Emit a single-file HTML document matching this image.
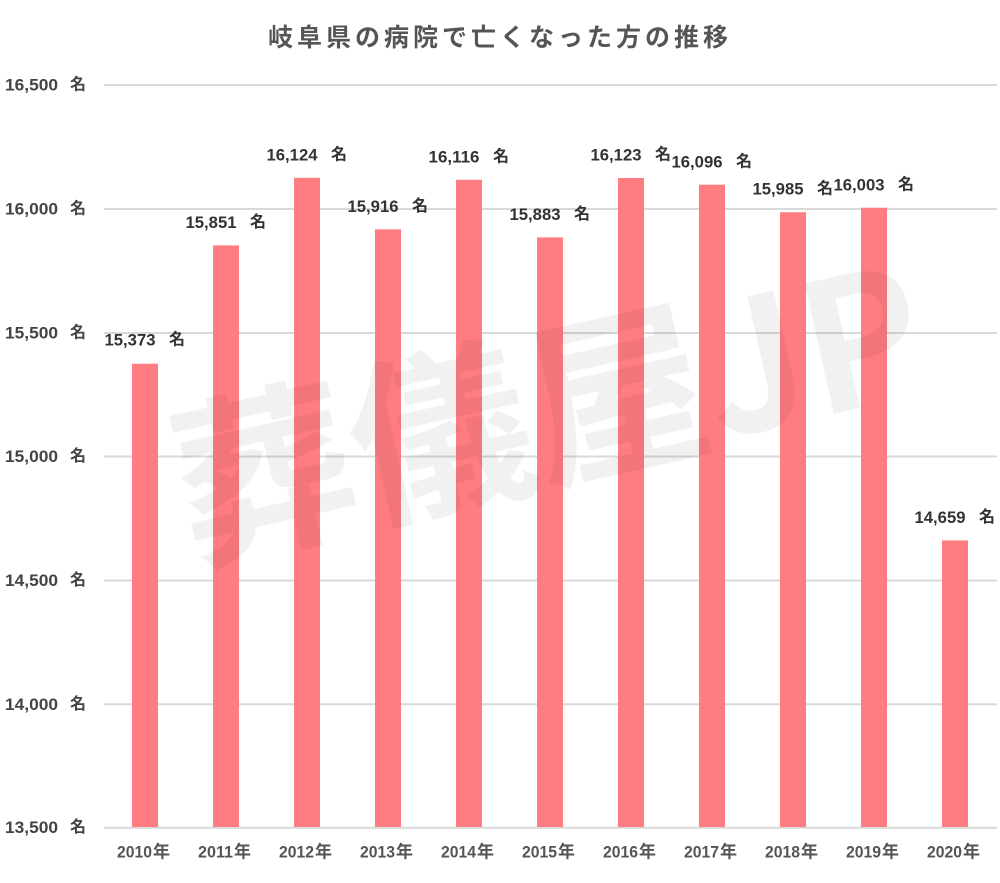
<!DOCTYPE html>
<html>
<head>
<meta charset="utf-8">
<style>
html,body{margin:0;padding:0;background:#fff;}
svg{display:block;}
text{font-family:"Liberation Sans","Noto Sans CJK JP",sans-serif;font-weight:bold;}
</style>
</head>
<body>
<svg width="1000" height="883" viewBox="0 0 1000 883" xmlns="http://www.w3.org/2000/svg">
  <rect width="1000" height="883" fill="#fff"/>
  <!-- title -->
  <text x="500" y="46" text-anchor="middle" font-size="25" letter-spacing="4" fill="#555">岐阜県の病院で亡くなった方の推移</text>

  <!-- gridlines -->
  <g stroke="#d9d9d9" stroke-width="2">
    <line x1="104" x2="997" y1="85" y2="85"/>
    <line x1="104" x2="997" y1="209" y2="209"/>
    <line x1="104" x2="997" y1="333" y2="333"/>
    <line x1="104" x2="997" y1="456.5" y2="456.5"/>
    <line x1="104" x2="997" y1="580.5" y2="580.5"/>
    <line x1="104" x2="997" y1="704.3" y2="704.3"/>
    <line x1="104" x2="997" y1="827.7" y2="827.7"/>
  </g>

  <!-- y axis labels -->
  <g fill="#444" font-size="17" dominant-baseline="central">
    <text x="5" y="85" textLength="53" lengthAdjust="spacingAndGlyphs">16,500</text><text x="70" y="85" font-size="16">名</text>
    <text x="5" y="209" textLength="53" lengthAdjust="spacingAndGlyphs">16,000</text><text x="70" y="209" font-size="16">名</text>
    <text x="5" y="333" textLength="53" lengthAdjust="spacingAndGlyphs">15,500</text><text x="70" y="333" font-size="16">名</text>
    <text x="5" y="456.5" textLength="53" lengthAdjust="spacingAndGlyphs">15,000</text><text x="70" y="456.5" font-size="16">名</text>
    <text x="5" y="580.5" textLength="53" lengthAdjust="spacingAndGlyphs">14,500</text><text x="70" y="580.5" font-size="16">名</text>
    <text x="5" y="704.3" textLength="53" lengthAdjust="spacingAndGlyphs">14,000</text><text x="70" y="704.3" font-size="16">名</text>
    <text x="5" y="827.7" textLength="53" lengthAdjust="spacingAndGlyphs">13,500</text><text x="70" y="827.7" font-size="16">名</text>
  </g>

  <!-- bars -->
  <g fill="#ff7c80">
    <rect x="132" y="363.7" width="26" height="463.3"/>
    <rect x="213" y="245.4" width="26" height="581.6"/>
    <rect x="294" y="177.8" width="26" height="649.2"/>
    <rect x="375" y="229.3" width="26" height="597.7"/>
    <rect x="456" y="179.8" width="26" height="647.2"/>
    <rect x="537" y="237.4" width="26" height="589.6"/>
    <rect x="618" y="178.0" width="26" height="649.0"/>
    <rect x="699" y="184.7" width="26" height="642.3"/>
    <rect x="780" y="212.2" width="26" height="614.8"/>
    <rect x="861" y="207.7" width="26" height="619.3"/>
    <rect x="942" y="540.4" width="26" height="286.6"/>
  </g>

  <!-- value labels -->
  <g fill="#333" font-size="17" dominant-baseline="central">
    <text x="104.5" y="340" textLength="51" lengthAdjust="spacingAndGlyphs">15,373</text><text x="169" y="340" font-size="16">名</text>
    <text x="185.5" y="222.5" textLength="51" lengthAdjust="spacingAndGlyphs">15,851</text><text x="250" y="222.5" font-size="16">名</text>
    <text x="266.5" y="155" textLength="51" lengthAdjust="spacingAndGlyphs">16,124</text><text x="331" y="155" font-size="16">名</text>
    <text x="347.5" y="206.5" textLength="51" lengthAdjust="spacingAndGlyphs">15,916</text><text x="412" y="206.5" font-size="16">名</text>
    <text x="428.5" y="157" textLength="51" lengthAdjust="spacingAndGlyphs">16,116</text><text x="493" y="157" font-size="16">名</text>
    <text x="509.5" y="214.5" textLength="51" lengthAdjust="spacingAndGlyphs">15,883</text><text x="574" y="214.5" font-size="16">名</text>
    <text x="590.5" y="155" textLength="51" lengthAdjust="spacingAndGlyphs">16,123</text><text x="655" y="155" font-size="16">名</text>
    <text x="671.5" y="162" textLength="51" lengthAdjust="spacingAndGlyphs">16,096</text><text x="736" y="162" font-size="16">名</text>
    <text x="752.5" y="189" textLength="51" lengthAdjust="spacingAndGlyphs">15,985</text><text x="817" y="189" font-size="16">名</text>
    <text x="833.5" y="185" textLength="51" lengthAdjust="spacingAndGlyphs">16,003</text><text x="898" y="185" font-size="16">名</text>
    <text x="914.5" y="517.5" textLength="51" lengthAdjust="spacingAndGlyphs">14,659</text><text x="979" y="517.5" font-size="16">名</text>
  </g>

  <!-- x axis labels -->
  <g fill="#555" font-size="17" dominant-baseline="central">
    <text x="117" y="852" textLength="35" lengthAdjust="spacingAndGlyphs">2010</text><text x="153" y="852" font-size="17">年</text>
    <text x="198" y="852" textLength="35" lengthAdjust="spacingAndGlyphs">2011</text><text x="234" y="852" font-size="17">年</text>
    <text x="279" y="852" textLength="35" lengthAdjust="spacingAndGlyphs">2012</text><text x="315" y="852" font-size="17">年</text>
    <text x="360" y="852" textLength="35" lengthAdjust="spacingAndGlyphs">2013</text><text x="396" y="852" font-size="17">年</text>
    <text x="441" y="852" textLength="35" lengthAdjust="spacingAndGlyphs">2014</text><text x="477" y="852" font-size="17">年</text>
    <text x="522" y="852" textLength="35" lengthAdjust="spacingAndGlyphs">2015</text><text x="558" y="852" font-size="17">年</text>
    <text x="603" y="852" textLength="35" lengthAdjust="spacingAndGlyphs">2016</text><text x="639" y="852" font-size="17">年</text>
    <text x="684" y="852" textLength="35" lengthAdjust="spacingAndGlyphs">2017</text><text x="720" y="852" font-size="17">年</text>
    <text x="765" y="852" textLength="35" lengthAdjust="spacingAndGlyphs">2018</text><text x="801" y="852" font-size="17">年</text>
    <text x="846" y="852" textLength="35" lengthAdjust="spacingAndGlyphs">2019</text><text x="882" y="852" font-size="17">年</text>
    <text x="927" y="852" textLength="35" lengthAdjust="spacingAndGlyphs">2020</text><text x="963" y="852" font-size="17">年</text>
  </g>

  <!-- watermark -->
  <text x="546" y="398" text-anchor="middle" dominant-baseline="central" font-size="180" fill="#000" fill-opacity="0.055" transform="rotate(-12.7 546 398)" style="font-family:'Noto Sans CJK JP','Liberation Sans',sans-serif;font-weight:bold;">葬儀屋JP</text>
</svg>
</body>
</html>
